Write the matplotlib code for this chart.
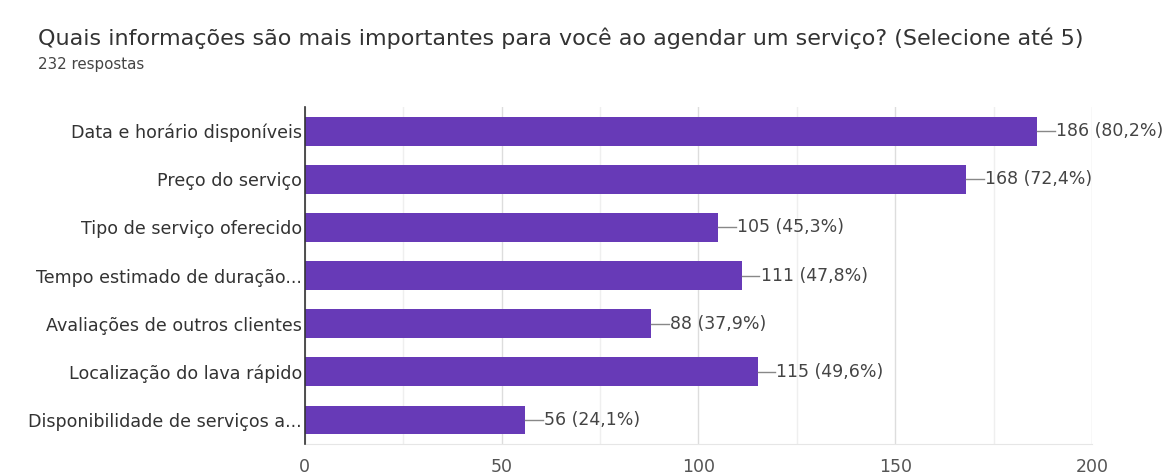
import matplotlib.pyplot as plt
from matplotlib.ticker import MultipleLocator

plt.rcParams['font.family'] = ['DejaVu Sans']

title = "Quais informações são mais importantes para você ao agendar um serviço? (Selecione até 5)"
subtitle = "232 respostas"
total = 232
categories = [
    "Data e horário disponíveis",
    "Preço do serviço",
    "Tipo de serviço oferecido",
    "Tempo estimado de duração...",
    "Avaliações de outros clientes",
    "Localização do lava rápido",
    "Disponibilidade de serviços a...",
]
counts = [186, 168, 105, 111, 88, 115, 56]
xticks = [0, 50, 100, 150, 200]

fig = plt.figure(figsize=(11.68, 4.76), dpi=100)
ax = fig.add_axes([0.261, 0.067, 0.674, 0.708])

y = list(range(len(categories)))
ax.barh(y, counts, height=0.6, color='#673ab7', zorder=3)
ax.set_ylim(len(categories) - 0.5, -0.5)
ax.set_xlim(0, 200)

ax.set_yticks(y)
ax.set_yticklabels(categories, fontsize=12.6, color='#333333')
ax.set_xticks(xticks)
ax.set_xticklabels([str(t) for t in xticks], fontsize=12.5, color='#555555')
ax.xaxis.set_minor_locator(MultipleLocator(25))
ax.tick_params(axis='both', which='both', length=0)
ax.tick_params(axis='y', pad=2)
ax.tick_params(axis='x', pad=10)

ax.grid(axis='x', which='major', color='#dddddd', linewidth=1, zorder=0)
ax.grid(axis='x', which='minor', color='#efefef', linewidth=1, zorder=0)

for side in ['top', 'right']:
    ax.spines[side].set_visible(False)
ax.spines['bottom'].set_color('#e6e6e6')
ax.spines['left'].set_color('#333333')
ax.spines['left'].set_linewidth(1.2)
ax.spines['left'].set_zorder(4)

for yi, c in zip(y, counts):
    pct = f"{100 * c / total:.1f}".replace('.', ',')
    ax.plot([c, c + 4.5], [yi, yi], color='#888888', linewidth=1, zorder=3)
    ax.text(c + 4.8, yi, f"{c} ({pct}%)", va='center', ha='left',
            fontsize=12.5, color='#444444')

fig.text(0.0325, 0.905, title, fontsize=16, color='#333333')
fig.text(0.0325, 0.855, subtitle, fontsize=10.8, color='#444444')

fig.savefig('out.png', dpi=100, facecolor='white')
